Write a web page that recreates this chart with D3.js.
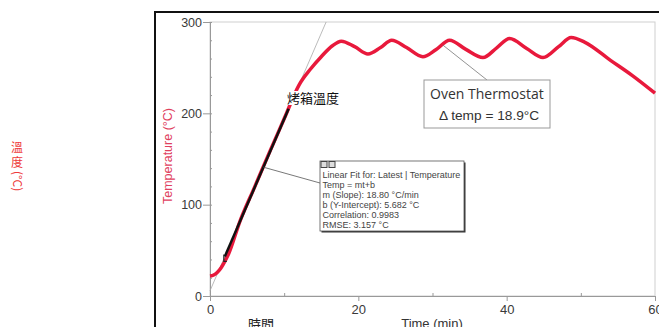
<!DOCTYPE html>
<html>
<head>
<meta charset="utf-8">
<script src="https://cdn.jsdelivr.net/npm/d3@7"></script>
<style>
  body { margin: 0; background: #fff; }
  svg { display: block; }
</style>
</head>
<body>
<svg width="659" height="327"></svg>
<script>
// readings from the oven run (min, °C)
const timeMin = [0, 0.5, 1, 1.5, 2, 2.5, 4, 6, 8, 10, 12, 13.5, 15, 16.5, 17.7, 19.5, 21.3, 23, 24.5, 26.5, 28.7, 30.5, 32.3, 34.5, 36.8, 38.7, 40.4, 42.7, 44.9, 47, 48.7, 50.5, 54, 57, 60]
const tempC = [22, 23, 26, 31, 38, 46, 81, 119, 157, 194, 231, 248, 262, 274, 279, 273, 265, 272, 280, 272, 262, 270, 280, 270, 261, 272, 282, 271, 261, 273, 283, 278, 258, 241, 222]

const fitSlope = 18.80
const fitIntercept = 5.682
const fitRange = [2, 10.6]

const xTicks = [0, 20, 40, 60]
const xMinor = [10, 30, 50]
const yTicks = [0, 100, 200, 300]
const yMinor = d3.range(0, 301, 20)

const fitText = [
  'Linear Fit for: Latest | Temperature',
  'Temp = mt+b',
  'm (Slope): 18.80 °C/min',
  'b (Y-Intercept): 5.682 °C',
  'Correlation: 0.9983',
  'RMSE: 3.157 °C'
]
const thermoText = ['Oven Thermostat', 'Δ temp = 18.9°C']
const sideChars = ['溫', '度']
const sideUnit = '(°C)'

const svg = d3.select('svg')
const red = '#e8193c'
const cjk = '"Noto Sans CJK TC", "Noto Sans CJK SC", sans-serif'

const x = d3.scaleLinear().domain([0, 60]).range([210, 655])
const y = d3.scaleLinear().domain([0, 300]).range([296, 22])

// outer screenshot border
svg.append('path')
  .attr('d', 'M155,327V12H659')
  .attr('fill', 'none')
  .attr('stroke', '#111')
  .attr('stroke-width', 2)

// plot frame
svg.append('rect')
  .attr('x', x(0)).attr('y', y(300))
  .attr('width', x(60) - x(0)).attr('height', y(0) - y(300))
  .attr('fill', 'none')
  .attr('stroke', '#cfcfcf')

//#region AXES
const yAxis = svg.append('g')
  .attr('transform', `translate(${x(0)},0)`)
  .call(d3.axisLeft(y).tickValues(yTicks).tickSize(7).tickPadding(1).tickSizeOuter(0))
svg.append('g')
  .attr('transform', `translate(${x(0)},0)`)
  .call(d3.axisRight(y).tickValues(yMinor).tickSize(2).tickFormat('').tickSizeOuter(0))

const xAxis = svg.append('g')
  .attr('transform', `translate(0,${y(0)})`)
  .call(d3.axisBottom(x).tickValues(xTicks).tickSize(5).tickPadding(4).tickSizeOuter(0))
svg.append('g')
  .attr('transform', `translate(0,${y(0)})`)
  .call(d3.axisTop(x).tickValues(xMinor).tickSize(3).tickFormat('').tickSizeOuter(0))

svg.selectAll('.domain, .tick line').attr('stroke', '#999')
svg.selectAll('.tick text')
  .attr('fill', '#3a3a3a')
  .attr('font-family', 'Liberation Sans, Arial, sans-serif')
yAxis.selectAll('.tick text').attr('font-size', 12.5)
xAxis.selectAll('.tick text').attr('font-size', 13)
//#endregion

// fit extension line (thin)
svg.append('line')
  .attr('x1', x(0)).attr('y1', y(fitIntercept))
  .attr('x2', x((300 - fitIntercept) / fitSlope)).attr('y2', y(300))
  .attr('stroke', '#aaa')
  .attr('stroke-width', 0.8)

// temperature curve
const line = d3.line()
  .x((d, i) => x(timeMin[i]))
  .y(d => y(d))
  .curve(d3.curveMonotoneX)

svg.append('path')
  .datum(tempC)
  .attr('d', line)
  .attr('fill', 'none')
  .attr('stroke', red)
  .attr('stroke-width', 3.5)
  .attr('stroke-linejoin', 'round')

// linear fit segment
svg.append('line')
  .attr('x1', x(fitRange[0])).attr('y1', y(fitSlope * fitRange[0] + fitIntercept))
  .attr('x2', x(fitRange[1])).attr('y2', y(fitSlope * fitRange[1] + fitIntercept))
  .attr('stroke', '#111')
  .attr('stroke-width', 2.5)

// fit start bracket
const bx = x(fitRange[0]), by = y(fitSlope * fitRange[0] + fitIntercept)
svg.append('path')
  .attr('d', `M${bx - 1},${by - 2}V${by + 5}H${bx + 2}`)
  .attr('fill', 'none')
  .attr('stroke', '#222')
  .attr('stroke-width', 1.2)

//#region FIT BOX
const fb = { x: 320, y: 161, w: 144, h: 70 }
const fitAnchor = 7.2
svg.append('line')
  .attr('x1', x(fitAnchor)).attr('y1', y(fitSlope * fitAnchor + fitIntercept))
  .attr('x2', fb.x).attr('y2', fb.y + 22)
  .attr('stroke', '#555')
  .attr('stroke-width', 0.8)

svg.append('rect')
  .attr('x', fb.x + 1.5).attr('y', fb.y + 1.5)
  .attr('width', fb.w).attr('height', fb.h)
  .attr('fill', '#333')
svg.append('rect')
  .attr('x', fb.x).attr('y', fb.y)
  .attr('width', fb.w).attr('height', fb.h)
  .attr('fill', '#fff')
  .attr('stroke', '#555')
  .attr('stroke-width', 0.8)

// little toolbar icons
svg.selectAll('.icon')
  .data([0, 1])
  .join('rect')
  .attr('class', 'icon')
  .attr('x', d => fb.x + 1 + d * 8).attr('y', fb.y + 0.5)
  .attr('width', 6).attr('height', 6)
  .attr('fill', '#ddd')
  .attr('stroke', '#444')
  .attr('stroke-width', 1)

svg.append('g')
  .selectAll('text')
  .data(fitText)
  .join('text')
  .attr('x', fb.x + 2.5)
  .attr('y', (d, i) => fb.y + 17 + i * 9.9)
  .attr('font-family', 'Liberation Sans, Arial, sans-serif')
  .attr('font-size', 9)
  .attr('fill', '#444')
  .text(d => d)
//#endregion

//#region THERMOSTAT BOX
const tb = { x: 424, y: 80, w: 126, h: 48 }
const thermoAnchor = 31.4
svg.append('line')
  .attr('x1', x(thermoAnchor)).attr('y1', y(278) + 3)
  .attr('x2', tb.x + 63).attr('y2', tb.y)
  .attr('stroke', '#777')
  .attr('stroke-width', 0.8)
svg.append('rect')
  .attr('x', tb.x).attr('y', tb.y)
  .attr('width', tb.w).attr('height', tb.h)
  .attr('fill', '#fff')
  .attr('stroke', '#999')
svg.append('text')
  .attr('x', tb.x + 6).attr('y', tb.y + 19)
  .attr('font-family', '"Open Sans", sans-serif')
  .attr('font-size', 14)
  .attr('fill', '#333')
  .text(thermoText[0])
svg.append('text')
  .attr('x', tb.x + 15).attr('y', tb.y + 40)
  .attr('font-family', 'Liberation Sans, Arial, sans-serif')
  .attr('font-size', 13.7)
  .attr('fill', '#333')
  .text(thermoText[1])
//#endregion

//#region LABELS
svg.append('text')
  .attr('transform', 'translate(172,156) rotate(-90)')
  .attr('text-anchor', 'middle')
  .attr('font-family', 'Liberation Sans, Arial, sans-serif')
  .attr('font-size', 12.5)
  .attr('fill', '#e0405e')
  .text('Temperature (°C)')

svg.append('text')
  .attr('x', 432).attr('y', 328)
  .attr('text-anchor', 'middle')
  .attr('font-family', 'Liberation Sans, Arial, sans-serif')
  .attr('font-size', 13)
  .attr('fill', '#333')
  .text('Time (min)')

svg.append('text')
  .attr('x', 261).attr('y', 329)
  .attr('text-anchor', 'middle')
  .attr('font-family', cjk)
  .attr('font-size', 13)
  .attr('fill', '#222')
  .text('時間')

// chinese label over the curve, white behind it
svg.append('rect')
  .attr('x', 286).attr('y', 91)
  .attr('width', 54).attr('height', 14)
  .attr('fill', '#fff')
svg.append('text')
  .attr('x', 287).attr('y', 103)
  .attr('font-family', cjk)
  .attr('font-size', 13)
  .attr('fill', '#111')
  .text('烤箱溫度')

// vertical side label: upright CJK stacked in one text, rotated unit below
const side = svg.append('g').attr('fill', '#ee3a3a').attr('font-family', cjk)
side.append('text')
  .attr('text-anchor', 'middle')
  .attr('font-size', 12)
  .selectAll('tspan')
  .data(sideChars)
  .join('tspan')
  .attr('x', 17)
  .attr('y', (d, i) => 152 + i * 15)
  .text(d => d)
side.append('text')
  .attr('transform', 'translate(12.5,171) rotate(90)')
  .attr('font-size', 12)
  .text(sideUnit)
//#endregion
</script>
</body>
</html>
